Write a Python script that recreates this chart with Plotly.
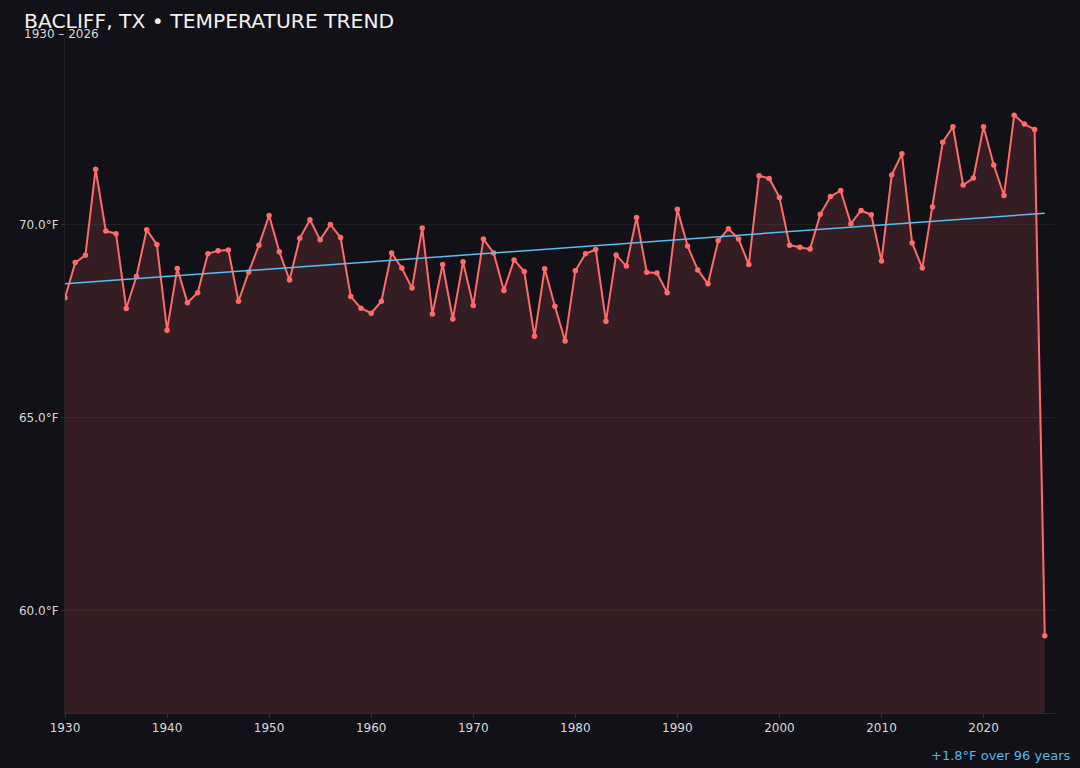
import plotly.graph_objects as go

years = list(range(1930, 2027))
temps = [
    68.10, 69.01, 69.20, 71.43, 69.83, 69.76, 67.82, 68.65, 69.86, 69.48,  # 1930-1939
    67.26, 68.86, 67.97, 68.23, 69.24, 69.32, 69.34, 68.01, 68.77, 69.46,  # 1940-1949
    70.23, 69.29, 68.56, 69.64, 70.12, 69.60, 70.00, 69.66, 68.13, 67.83,  # 1950-1959
    67.70, 68.01, 69.26, 68.87, 68.35, 69.91, 67.68, 68.96, 67.55, 69.03,  # 1960-1969
    67.90, 69.62, 69.26, 68.29, 69.08, 68.78, 67.10, 68.85, 67.88, 66.98,  # 1970-1979
    68.80, 69.24, 69.35, 67.49, 69.21, 68.92, 70.18, 68.76, 68.74, 68.23,  # 1980-1989
    70.39, 69.44, 68.82, 68.46, 69.58, 69.89, 69.62, 68.96, 71.26, 71.19,  # 1990-1999
    70.70, 69.46, 69.41, 69.36, 70.26, 70.72, 70.88, 70.02, 70.36, 70.25,  # 2000-2009
    69.05, 71.28, 71.83, 69.52, 68.87, 70.45, 72.13, 72.53, 71.02, 71.20,  # 2010-2019
    72.53, 71.54, 70.75, 72.83, 72.60, 72.46, 59.34,                       # 2020-2026
]

trend_years = [1930, 2026]
trend_values = [68.46, 70.29]

x_ticks = [1930, 1940, 1950, 1960, 1970, 1980, 1990, 2000, 2010, 2020]
y_ticks = [60, 65, 70]
y_tick_labels = ["60.0°F", "65.0°F", "70.0°F"]

title_text = "BACLIFF, TX • TEMPERATURE TREND"
subtitle_text = "1930 – 2026"
note_text = "+1.8°F over 96 years"

BG = "#121117"
LINE = "#ff6b6b"
TREND = "#5bbdf0"
FONT = "DejaVu Sans"

fig = go.Figure()
fig.add_trace(go.Scatter(
    x=years, y=temps, mode="lines+markers",
    line=dict(color=LINE, width=2),
    marker=dict(color=LINE, size=5.5),
    fill="tozeroy", fillcolor="rgba(255,107,107,0.15)",
    showlegend=False, hoverinfo="x+y",
))
fig.add_trace(go.Scatter(
    x=trend_years, y=trend_values, mode="lines",
    line=dict(color=TREND, width=1.5),
    showlegend=False, hoverinfo="skip",
))

fig.update_layout(
    width=1080, height=768,
    paper_bgcolor=BG, plot_bgcolor=BG,
    margin=dict(l=65, r=25, t=38, b=55),
    font=dict(family=FONT, color="#d6d6d6", size=12),
    xaxis=dict(
        range=[1930, 2027], tickvals=x_ticks, showgrid=False,
        showline=True, linecolor="rgba(255,255,255,0.10)", linewidth=1,
        ticks="outside", ticklen=4, tickcolor="rgba(255,255,255,0.15)",
        tickfont=dict(size=12, color="#d9d9d9"), zeroline=False,
    ),
    yaxis=dict(
        range=[57.34, 74.83], tickvals=y_ticks, ticktext=y_tick_labels,
        showgrid=True, gridcolor="rgba(255,255,255,0.06)", gridwidth=1,
        showline=True, linecolor="rgba(255,255,255,0.08)", linewidth=1,
        ticks="outside", ticklen=3, tickcolor="rgba(255,255,255,0.12)",
        tickfont=dict(size=12, color="#d9d9d9"), zeroline=False,
    ),
    annotations=[
        dict(text=title_text, xref="paper", yref="paper",
             x=(22 - 65) / 990, y=(713 - 20.5) / 675, xanchor="left", yanchor="middle",
             showarrow=False, font=dict(family=FONT, size=20.3, color="#f2f2f2")),
        dict(text=subtitle_text, xref="paper", yref="paper",
             x=(22 - 65) / 990, y=(713 - 33.5) / 675, xanchor="left", yanchor="middle",
             showarrow=False, font=dict(family=FONT, size=12, color="#d9d9d9")),
        dict(text=note_text, xref="paper", yref="paper",
             x=(1072 - 65) / 990, y=(713 - 755) / 675, xanchor="right", yanchor="middle",
             showarrow=False, font=dict(family=FONT, size=13, color="#5ab4e8")),
    ],
)

fig.write_html(
    "out.html",
    config={"displayModeBar": False},
    post_script="document.body.style.margin='0';document.body.style.background='#121117';",
)
